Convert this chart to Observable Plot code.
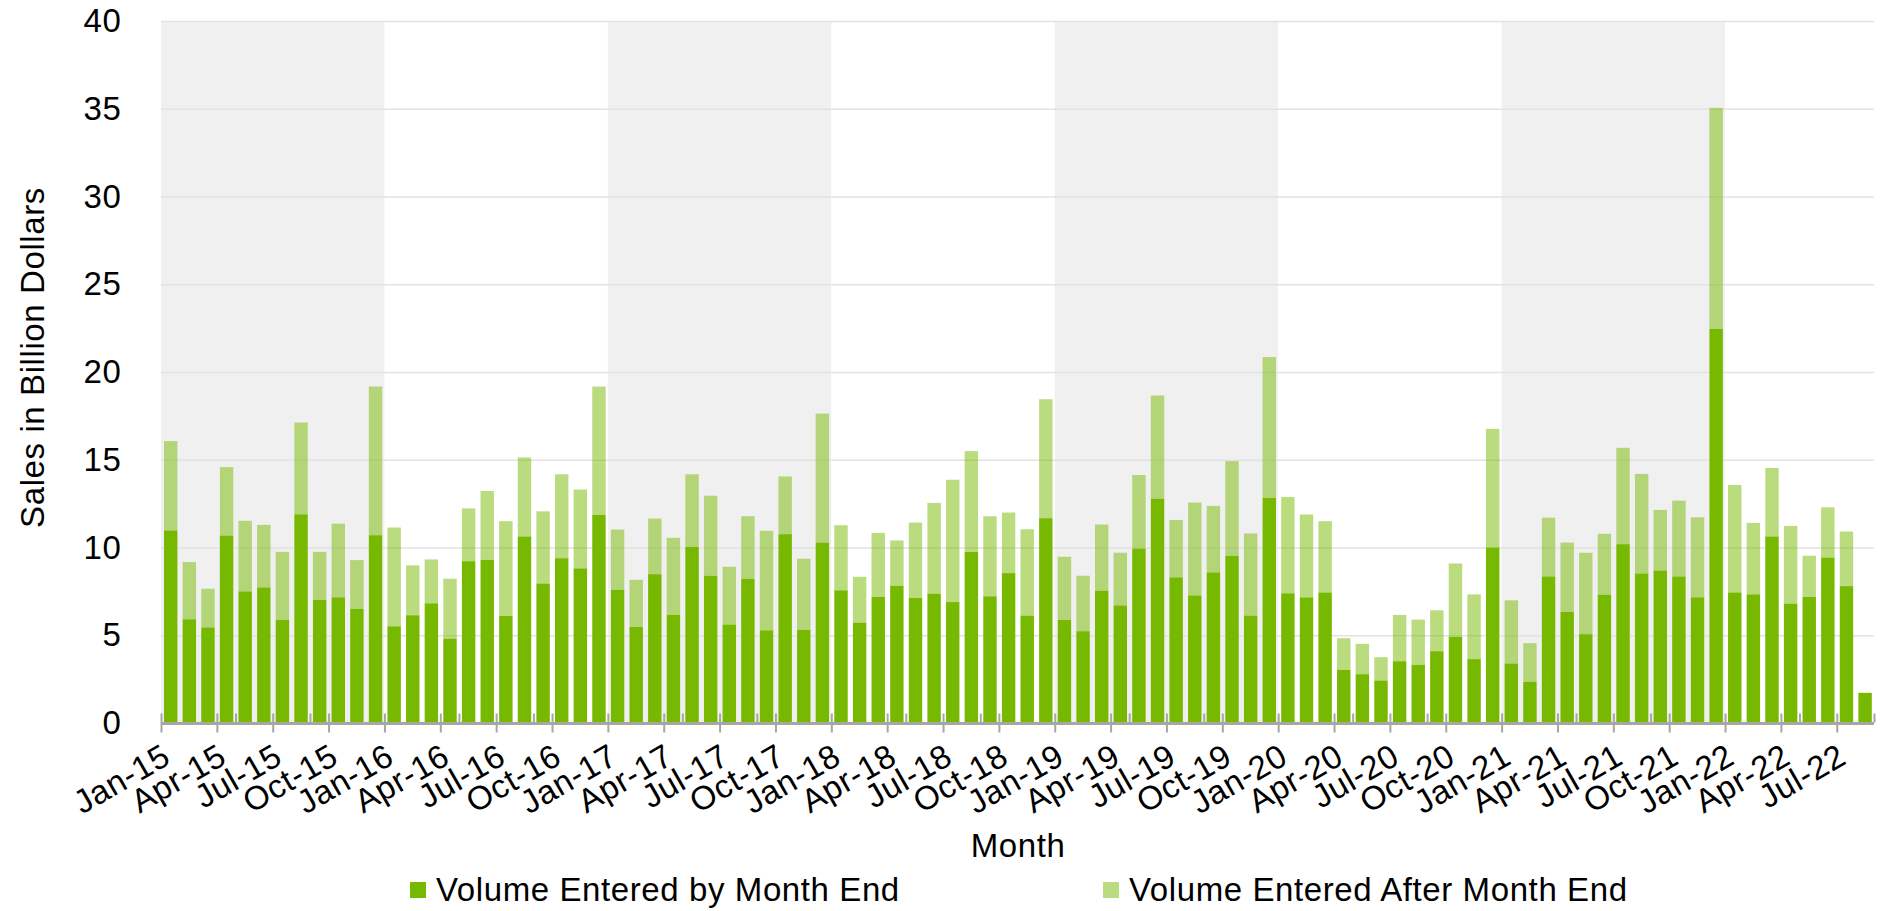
<!DOCTYPE html>
<html>
<head>
<meta charset="utf-8">
<script src="https://cdn.jsdelivr.net/npm/d3@7"></script>
<script src="https://cdn.jsdelivr.net/npm/@observablehq/plot@0.6"></script>
<style>
  html, body { margin: 0; padding: 0; background: #fff; }
  #chart { width: 1891px; }
  #legend { position: relative; width: 1891px; height: 43px; font-family: "Liberation Sans", Arial, sans-serif; font-size: 33px; letter-spacing: 0.6px; color: #000; }
  #legend .item { position: absolute; top: 0; height: 43px; display: flex; align-items: center; white-space: nowrap; }
  #legend .sw { display: inline-block; width: 16px; height: 16px; margin-right: 10px; }
</style>
</head>
<body>
<div id="chart"></div>
<div id="legend"></div>
<script>
// ---------------- data ----------------
const months = [
  "Jan-15","Feb-15","Mar-15","Apr-15","May-15","Jun-15","Jul-15","Aug-15","Sep-15","Oct-15","Nov-15","Dec-15",
  "Jan-16","Feb-16","Mar-16","Apr-16","May-16","Jun-16","Jul-16","Aug-16","Sep-16","Oct-16","Nov-16","Dec-16",
  "Jan-17","Feb-17","Mar-17","Apr-17","May-17","Jun-17","Jul-17","Aug-17","Sep-17","Oct-17","Nov-17","Dec-17",
  "Jan-18","Feb-18","Mar-18","Apr-18","May-18","Jun-18","Jul-18","Aug-18","Sep-18","Oct-18","Nov-18","Dec-18",
  "Jan-19","Feb-19","Mar-19","Apr-19","May-19","Jun-19","Jul-19","Aug-19","Sep-19","Oct-19","Nov-19","Dec-19",
  "Jan-20","Feb-20","Mar-20","Apr-20","May-20","Jun-20","Jul-20","Aug-20","Sep-20","Oct-20","Nov-20","Dec-20",
  "Jan-21","Feb-21","Mar-21","Apr-21","May-21","Jun-21","Jul-21","Aug-21","Sep-21","Oct-21","Nov-21","Dec-21",
  "Jan-22","Feb-22","Mar-22","Apr-22","May-22","Jun-22","Jul-22","Aug-22"
];

// Volume Entered by Month End (billion $)
const byMonthEnd = [
  10.97, 5.91, 5.45, 10.68, 7.50, 7.73, 5.87, 11.89, 7.01, 7.16, 6.50, 10.70,
  5.51, 6.14, 6.82, 4.81, 9.22, 9.30, 6.10, 10.63, 7.95, 9.39, 8.81, 11.86,
  7.58, 5.47, 8.48, 6.16, 10.04, 8.39, 5.61, 8.22, 5.28, 10.76, 5.30, 10.28,
  7.56, 5.72, 7.18, 7.82, 7.12, 7.37, 6.89, 9.75, 7.22, 8.54, 6.12, 11.67,
  5.87, 5.23, 7.54, 6.70, 9.94, 12.78, 8.30, 7.27, 8.58, 9.53, 6.12, 12.82,
  7.39, 7.16, 7.44, 3.03, 2.78, 2.42, 3.52, 3.31, 4.09, 4.91, 3.64, 10.00,
  3.39, 2.35, 8.35, 6.33, 5.06, 7.31, 10.19, 8.52, 8.69, 8.35, 7.16, 22.45,
  7.44, 7.33, 10.63, 6.80, 7.18, 9.43, 7.80, 1.72
];

// Volume Entered After Month End (billion $)
const afterMonthEnd = [
  5.09, 3.26, 2.20, 3.90, 4.02, 3.56, 3.88, 5.23, 2.74, 4.20, 2.78, 8.47,
  5.63, 2.84, 2.50, 3.41, 3.01, 3.92, 5.40, 4.50, 4.11, 4.78, 4.49, 7.31,
  3.44, 2.69, 3.17, 4.39, 4.13, 4.56, 3.29, 3.56, 5.67, 3.29, 4.06, 7.35,
  3.71, 2.61, 3.65, 2.58, 4.30, 5.17, 6.97, 5.74, 4.56, 3.45, 4.92, 6.78,
  3.60, 3.16, 3.77, 3.00, 4.19, 5.88, 3.27, 5.29, 3.79, 5.39, 4.68, 8.03,
  5.49, 4.72, 4.06, 1.80, 1.73, 1.33, 2.64, 2.58, 2.33, 4.18, 3.69, 6.76,
  3.60, 2.20, 3.35, 3.95, 4.64, 3.47, 5.49, 5.67, 3.45, 4.32, 4.56, 12.60,
  6.12, 4.07, 3.90, 4.43, 2.35, 2.86, 3.11, 0
];

const seriesNames = ["Volume Entered by Month End", "Volume Entered After Month End"];
const seriesColors = ["#76b900", "#76b900"];
const seriesOpacity = [1, 0.5];
const yTicks = [0, 5, 10, 15, 20, 25, 30, 35, 40];
const shadedYears = ["15", "17", "19", "21"];
const yTitle = "Sales in Billion Dollars";
const xTitle = "Month";

// ---------------- build tables ----------------
const rows = months.map((m, i) => ({i, month: m, byEnd: byMonthEnd[i], after: afterMonthEnd[i]}));
const shadeRows = shadedYears.map(y => {
  const s = months.indexOf("Jan-" + y);
  return {x1: s, x2: s + 12};
});
const majorIdx = months.map((m, i) => i).filter(i => i % 3 === 0);
const minorIdx = d3.range(0, months.length + 1).filter(i => i % 4 === 0 && i % 3 !== 0);

const FONT = "'Liberation Sans', Arial, sans-serif";
const FS = 33;

const chart = Plot.plot({
  width: 1891,
  height: 868,
  marginLeft: 161,
  marginRight: 17,
  marginTop: 21,
  marginBottom: 145,
  style: `font-family: ${FONT}; letter-spacing: 0.6px; background: white; color: black; overflow: visible;`,
  x: {type: "linear", domain: [0, months.length]},
  y: {type: "linear", domain: [0, 40]},
  marks: [
    Plot.rect(shadeRows, {x1: "x1", x2: "x2", y1: 0, y2: 40, fill: "#f0f0f0"}),
    Plot.ruleY(yTicks.filter(v => v > 0), {stroke: "#e2e2e2", strokeWidth: 1.5}),
    Plot.rect(rows, {
      x1: d => d.i, x2: d => d.i + 1, y1: 0, y2: d => d.byEnd,
      fill: seriesColors[0], fillOpacity: seriesOpacity[0], insetLeft: 3, insetRight: 2.2
    }),
    Plot.rect(rows.filter(d => d.after > 0), {
      x1: d => d.i, x2: d => d.i + 1, y1: d => d.byEnd, y2: d => d.byEnd + d.after,
      fill: seriesColors[1], fillOpacity: seriesOpacity[1], insetLeft: 3, insetRight: 2.2
    }),
    Plot.ruleY([0], {stroke: "#a6a6a6", strokeWidth: 3}),
    Plot.axisX(majorIdx, {tickSize: 19, dy: -9.5, fill: "none", stroke: "#a6a6a6", strokeWidth: 2, label: null}),
    Plot.axisX(minorIdx, {tickSize: 9, dy: -9.5, fill: "none", stroke: "#a6a6a6", strokeWidth: 2, label: null}),
    Plot.text(majorIdx, {
      x: d => d, frameAnchor: "bottom", text: d => months[d],
      rotate: -30, textAnchor: "end", lineAnchor: "bottom",
      dx: 11, dy: 39, fontSize: FS, fill: "black"
    }),
    Plot.axisY(yTicks, {tickSize: 0, tickPadding: 40, fontSize: FS, label: null, tickFormat: d => String(d)}),
    Plot.text([yTitle], {
      frameAnchor: "left", rotate: -90, text: d => d, textAnchor: "middle", lineAnchor: "middle",
      dx: -128, dy: -15, fontSize: FS, fill: "black"
    }),
    Plot.text([xTitle], {frameAnchor: "bottom", text: d => d, textAnchor: "middle", dy: 133, fontSize: FS, fill: "black"})
  ]
});
document.getElementById("chart").appendChild(chart);

// ---------------- legend ----------------
const legend = document.getElementById("legend");
const legendLeft = [410, 1103];
seriesNames.forEach((name, k) => {
  const item = document.createElement("div");
  item.className = "item";
  item.style.left = legendLeft[k] + "px";
  const sw = document.createElement("span");
  sw.className = "sw";
  sw.style.background = seriesColors[k];
  sw.style.opacity = seriesOpacity[k];
  item.appendChild(sw);
  item.appendChild(document.createTextNode(name));
  legend.appendChild(item);
});
</script>
</body>
</html>
